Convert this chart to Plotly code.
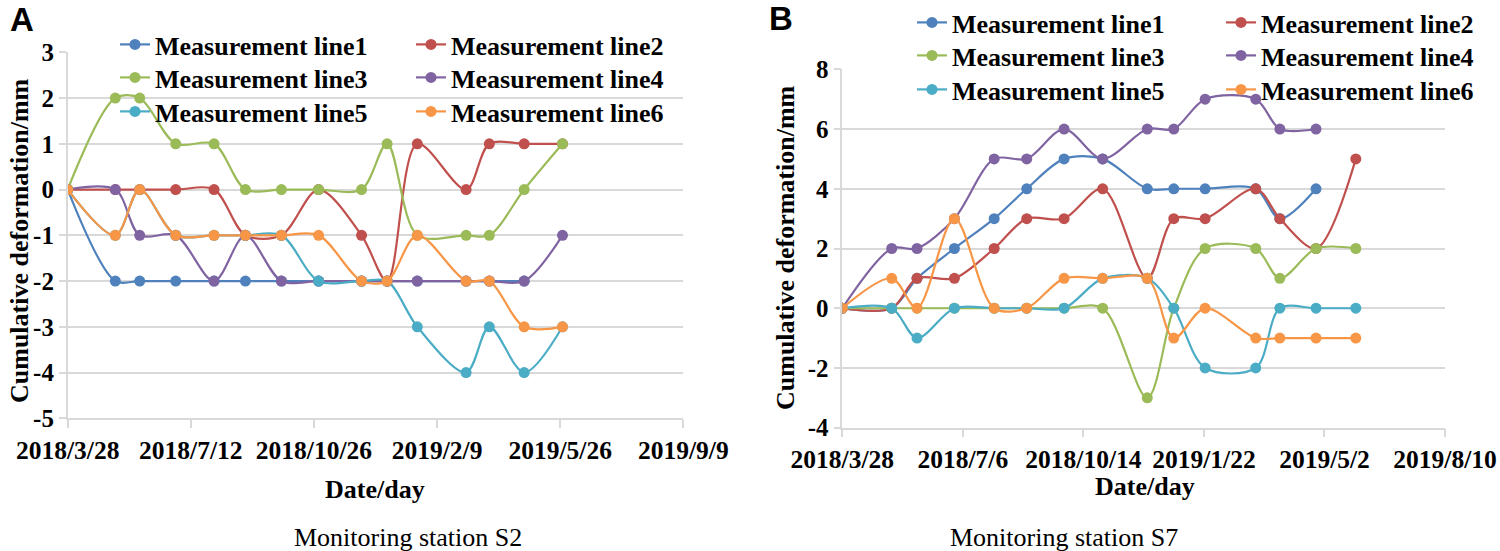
import plotly.graph_objects as go

# ---------------- data ----------------
dates = ["2018-03-28", "2018-05-08", "2018-05-29", "2018-06-29", "2018-08-01",
         "2018-08-28", "2018-09-28", "2018-10-30", "2018-12-06", "2018-12-28",
         "2019-01-23", "2019-03-06", "2019-03-26", "2019-04-25", "2019-05-28"]

series_names = ["Measurement line1", "Measurement line2", "Measurement line3",
                "Measurement line4", "Measurement line5", "Measurement line6"]
colors = ["#4f81bd", "#c0504d", "#9bbb59", "#8064a2", "#4bacc6", "#f79646"]

# Monitoring station S2
s2_line1 = [0, -2, -2, -2, -2, -2, -2, -2, -2, -2, -2, -2, -2, -2]
s2_line2 = [0, 0, 0, 0, 0, -1, -1, 0, -1, -2, 1, 0, 1, 1, 1]
s2_line3 = [0, 2, 2, 1, 1, 0, 0, 0, 0, 1, -1, -1, -1, 0, 1]
s2_line4 = [0, 0, -1, -1, -2, -1, -2, -2, -2, -2, -2, -2, -2, -2, -1]
s2_line5 = [0, -1, 0, -1, -1, -1, -1, -2, -2, -2, -3, -4, -3, -4, -3]
s2_line6 = [0, -1, 0, -1, -1, -1, -1, -1, -2, -2, -1, -2, -2, -3, -3]

# Monitoring station S7
s7_line1 = [0, 0, 1, 2, 3, 4, 5, 5, 4, 4, 4, 4, 3, 4]
s7_line2 = [0, 0, 1, 1, 2, 3, 3, 4, 1, 3, 3, 4, 3, 2, 5]
s7_line3 = [0, 0, 0, 0, 0, 0, 0, 0, -3, 0, 2, 2, 1, 2, 2]
s7_line4 = [0, 2, 2, 3, 5, 5, 6, 5, 6, 6, 7, 7, 6, 6]
s7_line5 = [0, 0, -1, 0, 0, 0, 0, 1, 1, 0, -2, -2, 0, 0, 0]
s7_line6 = [0, 1, 0, 3, 0, 0, 1, 1, 1, -1, 0, -1, -1, -1, -1]

s2_ticks = ["2018-03-28", "2018-07-12", "2018-10-26", "2019-02-09", "2019-05-26", "2019-09-09"]
s2_ticktext = ["2018/3/28", "2018/7/12", "2018/10/26", "2019/2/9", "2019/5/26", "2019/9/9"]
s7_ticks = ["2018-03-28", "2018-07-06", "2018-10-14", "2019-01-22", "2019-05-02", "2019-08-10"]
s7_ticktext = ["2018/3/28", "2018/7/6", "2018/10/14", "2019/1/22", "2019/5/2", "2019/8/10"]

s2_yticks = [-5, -4, -3, -2, -1, 0, 1, 2, 3]
s7_yticks = [-4, -2, 0, 2, 4, 6, 8]

s2_series = [s2_line1, s2_line2, s2_line3, s2_line4, s2_line5, s2_line6]
s7_series = [s7_line1, s7_line2, s7_line3, s7_line4, s7_line5, s7_line6]

# ---------------- figure ----------------
W, H = 1500, 551
fig = go.Figure()

left_legends = ["legend", "legend", "legend2", "legend2", "legend3", "legend3"]
right_legends = ["legend4", "legend4", "legend5", "legend5", "legend6", "legend6"]

for i, vals in enumerate(s2_series):
    fig.add_trace(go.Scatter(
        x=dates[:len(vals)], y=vals, name=series_names[i], mode="lines+markers",
        line=dict(color=colors[i], width=2.2, shape="spline", smoothing=0.9),
        marker=dict(color=colors[i], size=11),
        xaxis="x", yaxis="y", legend=left_legends[i]))

for i, vals in enumerate(s7_series):
    fig.add_trace(go.Scatter(
        x=dates[:len(vals)], y=vals, name=series_names[i], mode="lines+markers",
        line=dict(color=colors[i], width=2.2, shape="spline", smoothing=0.9),
        marker=dict(color=colors[i], size=11),
        xaxis="x2", yaxis="y2", legend=right_legends[i]))

serif = "Liberation Serif, Times New Roman, serif"
bold_font = dict(family=serif, size=26, color="black", weight="bold")
grid = "#d9d9d9"

def px(x):
    return x / W

def py(y):
    return 1 - y / H

common_x = dict(type="date", showgrid=False, showline=True, linecolor=grid, linewidth=1.5,
                ticks="outside", ticklen=8, tickcolor=grid, tickwidth=1.5,
                tickfont=dict(family=serif, size=25.5, color="black", weight="bold"),
                zeroline=False, tickangle=0, automargin=False)
common_y = dict(showgrid=True, gridcolor=grid, gridwidth=1.5, showline=True, linecolor=grid,
                linewidth=1.5, ticks="outside", ticklen=7, tickcolor=grid, tickwidth=1.5,
                tickfont=dict(family=serif, size=25, color="black", weight="bold"),
                zeroline=False, automargin=False)

fig.update_layout(
    width=W, height=H,
    margin=dict(l=0, r=0, t=0, b=0, autoexpand=False),
    paper_bgcolor="white", plot_bgcolor="white",
    xaxis=dict(common_x, domain=[px(67.7), px(683.3)], range=["2018-03-28", "2019-09-09"],
               tickvals=s2_ticks, ticktext=s2_ticktext, anchor="y"),
    yaxis=dict(common_y, domain=[py(418.3), py(52.3)], range=[-5, 3],
               tickvals=s2_yticks, ticktext=[str(v) for v in s2_yticks], anchor="x"),
    xaxis2=dict(common_x, domain=[px(842.3), px(1445)], range=["2018-03-28", "2019-08-10"],
                tickvals=s7_ticks, ticktext=s7_ticktext, anchor="y2"),
    yaxis2=dict(common_y, domain=[py(427.7), py(69.3)], range=[-4, 8],
                tickvals=s7_yticks, ticktext=[str(v) for v in s7_yticks], anchor="x2"),
    showlegend=True,
)

leg_common = dict(xanchor="left", yanchor="top", bgcolor="rgba(0,0,0,0)",
                  font=bold_font, itemwidth=30, tracegroupgap=0, orientation="h",
                  entrywidthmode="pixels")
left_rows = [47, 80, 114]
right_rows = [25, 58, 92]
fig.update_layout(
    legend=dict(leg_common, x=px(115), y=py(left_rows[0] - 26), entrywidth=251),
    legend2=dict(leg_common, x=px(115), y=py(left_rows[1] - 26), entrywidth=251),
    legend3=dict(leg_common, x=px(115), y=py(left_rows[2] - 26), entrywidth=251),
    legend4=dict(leg_common, x=px(912), y=py(right_rows[0] - 26), entrywidth=264),
    legend5=dict(leg_common, x=px(912), y=py(right_rows[1] - 26), entrywidth=264),
    legend6=dict(leg_common, x=px(912), y=py(right_rows[2] - 26), entrywidth=264),
)

annotations = [
    dict(text="Cumulative deformation/mm", x=px(20), y=py(241), textangle=-90, font=bold_font),
    dict(text="Cumulative deformation/mm", x=px(785), y=py(248), textangle=-90, font=bold_font),
    dict(text="Date/day", x=px(375), y=py(489), font=bold_font),
    dict(text="Date/day", x=px(1145), y=py(486), font=bold_font),
    dict(text="Monitoring station S2", x=px(408), y=py(537),
         font=dict(family=serif, size=26, color="black")),
    dict(text="Monitoring station S7", x=px(1064), y=py(537),
         font=dict(family=serif, size=26, color="black")),
    dict(text="A", x=px(22), y=py(20),
         font=dict(family="Liberation Sans, Arial, sans-serif", size=33, color="black", weight="bold")),
    dict(text="B", x=px(781), y=py(19),
         font=dict(family="Liberation Sans, Arial, sans-serif", size=33, color="black", weight="bold")),
]
for a in annotations:
    a.update(xref="paper", yref="paper", showarrow=False, xanchor="center", yanchor="middle")
fig.update_layout(annotations=annotations)

fig.write_html("out.html", config={"displayModeBar": False},
               post_script="document.body.style.margin='0px';")
